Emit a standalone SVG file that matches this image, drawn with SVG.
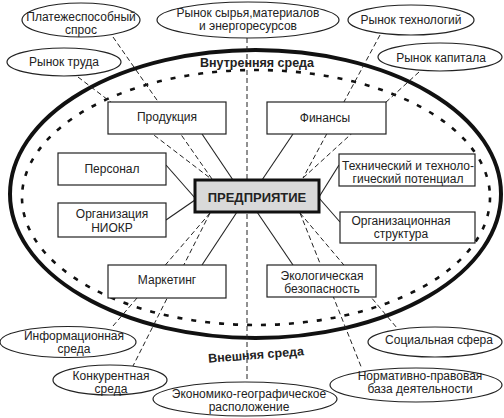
<svg xmlns="http://www.w3.org/2000/svg" width="504" height="418" viewBox="0 0 504 418">
<style>
text{font-family:"Liberation Sans",Arial,sans-serif;font-size:12px;fill:#222;text-anchor:middle}
.b{fill:#fff;stroke:#222;stroke-width:1.2}
.e{fill:#fff;stroke:#222;stroke-width:1.2}
.d{stroke:#222;stroke-width:1;stroke-dasharray:5 3;fill:none}
.s{stroke:#222;stroke-width:1.1;fill:none}
.t{font-weight:bold;font-size:12.5px}
</style>
<rect width="504" height="418" fill="#fff"/>
<g id="environment">
<ellipse cx="255.5" cy="194" rx="245.5" ry="144" fill="none" stroke="#111" stroke-width="4"/>
<ellipse cx="256" cy="197.5" rx="234" ry="127.5" fill="none" stroke="#111" stroke-width="2.6" stroke-dasharray="5 9"/>
<text class="t" x="257" y="67">Внутренняя среда</text>
<text class="t" x="256" y="359" transform="rotate(-4.5 256 355)">Внешняя среда</text>
</g>
<g id="connectors">
<line class="d" x1="247" y1="38" x2="247" y2="382"/>
<line class="d" x1="78" y1="77" x2="210" y2="178"/>
<line class="d" x1="113" y1="37" x2="212" y2="179"/>
<line class="d" x1="380" y1="35" x2="303" y2="178"/>
<line class="d" x1="419" y1="72" x2="303" y2="178"/>
<line class="d" x1="210" y1="213" x2="113" y2="326"/>
<line class="d" x1="210" y1="213" x2="133" y2="366"/>
<line class="d" x1="300" y1="213" x2="362" y2="369"/>
<line class="d" x1="300" y1="213" x2="397" y2="328"/>
<line class="s" x1="202" y1="134" x2="233" y2="180"/>
<line class="s" x1="293" y1="134" x2="262" y2="180"/>
<line class="s" x1="166" y1="165" x2="195" y2="198"/>
<line class="s" x1="166" y1="220" x2="195" y2="200"/>
<line class="s" x1="339" y1="165" x2="319" y2="197"/>
<line class="s" x1="340" y1="222" x2="319" y2="198"/>
<line class="s" x1="202" y1="265" x2="237" y2="212"/>
<line class="s" x1="293" y1="265" x2="257" y2="212"/>
</g>
<g id="platezh"><ellipse class="e" cx="81" cy="20" rx="59" ry="17"/><text x="81" y="21">Платежеспособный</text><text x="81" y="34">спрос</text></g>
<g id="trud"><ellipse class="e" cx="64" cy="62" rx="57" ry="14"/><text x="64" y="66">Рынок труда</text></g>
<g id="syrye"><ellipse class="e" cx="248" cy="20" rx="91" ry="18"/><text x="248" y="17">Рынок сырья,материалов</text><text x="248" y="30">и энергоресурсов</text></g>
<g id="tehnol"><ellipse class="e" cx="411" cy="20" rx="63" ry="15"/><text x="411" y="24">Рынок технологий</text></g>
<g id="kapital"><ellipse class="e" cx="440" cy="57" rx="62" ry="14"/><text x="441" y="62">Рынок капитала</text></g>
<g id="inform"><ellipse class="e" cx="68" cy="342" rx="68" ry="15.5"/><text x="74" y="340">Информационная</text><text x="74" y="353">среда</text></g>
<g id="konkur"><ellipse class="e" cx="110" cy="380" rx="57" ry="15"/><text x="111" y="380">Конкурентная</text><text x="111" y="393">среда</text></g>
<g id="econom"><ellipse class="e" cx="245" cy="399" rx="92" ry="17"/><text x="249" y="398">Экономико-географическое</text><text x="249" y="411">расположение</text></g>
<g id="social"><ellipse class="e" cx="435" cy="342" rx="67" ry="15"/><text x="439" y="344">Социальная сфера</text></g>
<g id="normativ"><ellipse class="e" cx="416" cy="385" rx="86" ry="17"/><text x="420" y="380">Нормативно-правовая</text><text x="420" y="393">база деятельности</text></g>
<g id="produkciya"><rect class="b" x="108" y="102" width="118" height="32"/><text x="167" y="121">Продукция</text></g>
<g id="finansy"><rect class="b" x="267" y="102" width="119" height="32"/><text x="325" y="122">Финансы</text></g>
<g id="personal"><rect class="b" x="58" y="153" width="108" height="32"/><text x="112" y="173">Персонал</text></g>
<g id="niokr"><rect class="b" x="58" y="203" width="108" height="34"/><text x="112" y="218">Организация</text><text x="112" y="232">НИОКР</text></g>
<g id="tehpot"><rect class="b" x="339" y="154" width="136" height="32"/><text x="408" y="170">Технический и техноло-</text><text x="408" y="183">гический потенциал</text></g>
<g id="orgstr"><rect class="b" x="340" y="212" width="135" height="31"/><text x="401" y="225">Организационная</text><text x="401" y="238">структура</text></g>
<g id="marketing"><rect class="b" x="108" y="265" width="118" height="33"/><text x="167" y="284">Маркетинг</text></g>
<g id="ekolog"><rect class="b" x="267" y="265" width="109" height="32"/><text x="322" y="280">Экологическая</text><text x="322" y="293">безопасность</text></g>
<g id="predpriyatie"><rect x="195" y="180" width="124" height="32" fill="#d9d9d9" stroke="#111" stroke-width="3"/><text x="257" y="202" style="font-weight:bold;font-size:13px">ПРЕДПРИЯТИЕ</text></g>
</svg>
